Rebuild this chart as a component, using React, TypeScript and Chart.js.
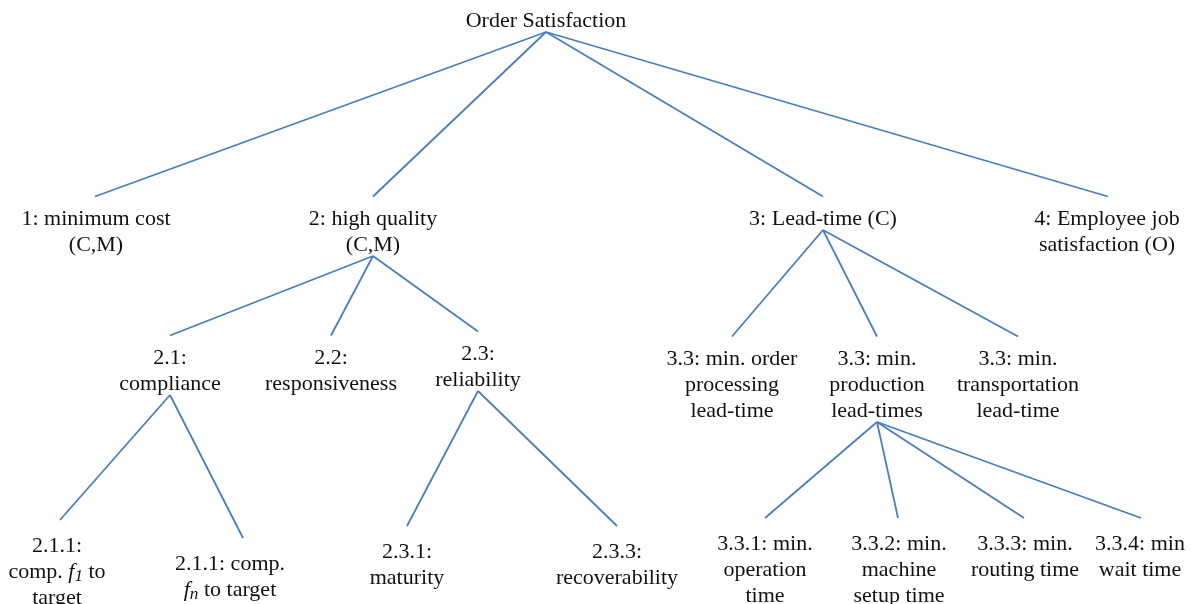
import React, { useEffect, useRef } from "react";
import { Chart, registerables } from "chart.js";

Chart.register(...registerables);

// ---- Tree data ----
// Label lines for each node ("*x*" = italic, "_x_" = italic subscript)
const nodeLabels: string[][] = [
  ["Order Satisfaction"],
  ["1: minimum cost", "(C,M)"],
  ["2: high quality", "(C,M)"],
  ["3: Lead-time (C)"],
  ["4: Employee job", "satisfaction (O)"],
  ["2.1:", "compliance"],
  ["2.2:", "responsiveness"],
  ["2.3:", "reliability"],
  ["2.1.1:", "comp. *f*_1_ to", "target"],
  ["2.1.1: comp.", "*f*_n_ to target"],
  ["2.3.1:", "maturity"],
  ["2.3.3:", "recoverability"],
  ["3.3: min. order", "processing", "lead-time"],
  ["3.3: min.", "production", "lead-times"],
  ["3.3: min.", "transportation", "lead-time"],
  ["3.3.1: min.", "operation", "time"],
  ["3.3.2: min.", "machine", "setup time"],
  ["3.3.3: min.", "routing time"],
  ["3.3.4: min", "wait time"],
];
// Parent of each node (-1 = root)
const nodeParent: number[] = [-1, 0, 0, 0, 0, 2, 2, 2, 5, 5, 7, 7, 3, 3, 3, 13, 13, 13, 13];
// Depth of each node in the tree
const nodeDepth: number[] = [0, 1, 1, 1, 1, 2, 2, 2, 3, 3, 3, 3, 2, 2, 2, 3, 3, 3, 3];
// Horizontal position of each node (where branches attach), diagram units
const nodeX: number[] = [546, 95, 373, 823, 1108, 170, 331, 478, 60, 243, 407, 617, 732, 877, 1018, 765, 898, 1024, 1141];
// Vertical position of the first label line of each node
const nodeY: number[] = [19, 217, 217, 217, 217, 356, 356, 352, 544, 562, 550, 550, 357, 357, 357, 542, 542, 542, 542];
// Label horizontal shift relative to the attach point
const labelDx: number[] = [0, 1, 0, 0, -1, 0, 0, 0, -3, -13, 0, 0, 0, 0, 0, 0, 1, 1, -1];

const LINE_GAP = 26;
const FONT_SIZE = 22;
const TEXT_SHIFT = 2;
const FONT_FAMILY = '"Liberation Serif", "Times New Roman", Times, serif';
const EDGE_COLOR = "#4a7ebb";

type Seg = { text: string; italic: boolean; sub: boolean };
function parseLine(line: string): Seg[] {
  const parts = line.split(/(\*[^*]+\*|_[^_]+_)/).filter((p) => p.length > 0);
  return parts.map((p) => {
    if (p.startsWith("*") && p.endsWith("*")) return { text: p.slice(1, -1), italic: true, sub: false };
    if (p.startsWith("_") && p.endsWith("_")) return { text: p.slice(1, -1), italic: true, sub: true };
    return { text: p, italic: false, sub: false };
  });
}

function segFont(s: Seg) {
  const size = s.sub ? FONT_SIZE * 0.78 : FONT_SIZE;
  return `${s.italic ? "italic " : ""}${size}px ${FONT_FAMILY}`;
}

const labelPlugin = {
  id: "treeLabels",
  afterDatasetsDraw(chart: any) {
    const ctx: CanvasRenderingContext2D = chart.ctx;
    const xs = chart.scales.x;
    const ys = chart.scales.y;
    ctx.save();
    ctx.fillStyle = "#111111";
    ctx.textBaseline = "middle";
    ctx.textAlign = "left";
    nodeLabels.forEach((lines, i) => {
      const cx = xs.getPixelForValue(nodeX[i] + labelDx[i]);
      lines.forEach((line, li) => {
        const cy = ys.getPixelForValue(nodeY[i] + li * LINE_GAP) + TEXT_SHIFT;
        const segs = parseLine(line);
        let total = 0;
        const widths = segs.map((s) => {
          ctx.font = segFont(s);
          const w = ctx.measureText(s.text).width;
          total += w;
          return w;
        });
        let x = cx - total / 2;
        segs.forEach((s, k) => {
          ctx.font = segFont(s);
          ctx.fillText(s.text, x, cy + (s.sub ? 4 : 0));
          x += widths[k];
        });
      });
    });
    ctx.restore();
  },
};

export default function App() {
  const ref = useRef<HTMLCanvasElement | null>(null);
  useEffect(() => {
    document.body.style.margin = "0";
    if (!ref.current) return;
    const datasets = nodeParent
      .map((p, i) => {
        if (p < 0) return null;
        const pLines = nodeLabels[p].length;
        const apexY = nodeY[p] + (pLines - 1) * LINE_GAP + 13;
        const endY = nodeY[i] - (nodeDepth[i] >= 3 ? 24 : 20.5);
        return {
          data: [
            { x: nodeX[p], y: apexY },
            { x: nodeX[i], y: endY },
          ],
          showLine: true,
          borderColor: EDGE_COLOR,
          borderWidth: 1.8,
          pointRadius: 0,
          fill: false,
        };
      })
      .filter(Boolean) as any[];
    const chart = new Chart(ref.current, {
      type: "scatter",
      data: { datasets },
      options: {
        responsive: false,
        animation: false,
        layout: { padding: 0 },
        scales: {
          x: { type: "linear", min: 0, max: 1191, display: false },
          y: { type: "linear", min: 0, max: 604, reverse: true, display: false },
        },
        plugins: { legend: { display: false }, tooltip: { enabled: false } },
        events: [],
      },
      plugins: [labelPlugin],
    });
    return () => chart.destroy();
  }, []);
  return (
    <div style={{ width: 1191, height: 604, background: "#ffffff" }}>
      <canvas ref={ref} width={1191} height={604} style={{ display: "block" }} />
    </div>
  );
}
